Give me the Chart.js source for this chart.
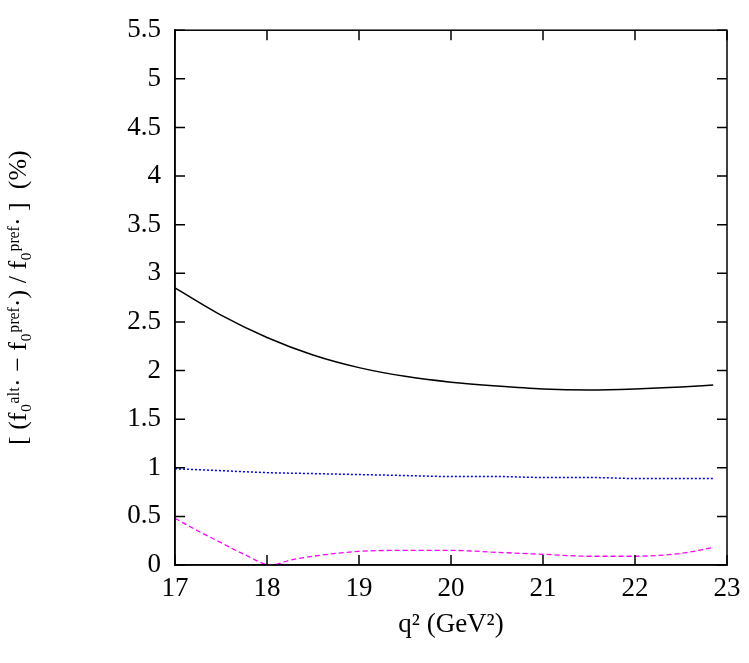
<!DOCTYPE html>
<html><head><script src="https://cdn.jsdelivr.net/npm/chart.js@4"></script>
<style>body{margin:0;background:#fff}#w{width:749px;height:663px}</style></head>
<body><div id="w"><canvas id="c"></canvas></div>
<script>
const q2 = [17,17.5,18,18.5,19,19.5,20,20.5,21,21.5,22,22.5,22.85];
const blackSeries = [2.85,2.57,2.34,2.16,2.03,1.94,1.88,1.84,1.81,1.80,1.81,1.83,1.85];
const blueSeries = [0.99,0.97,0.95,0.94,0.93,0.92,0.91,0.91,0.90,0.90,0.89,0.89,0.89];
const magentaX = [17,17.25,17.5,17.75,18.05,18.25,18.5,19,19.5,20,20.5,21,21.5,22,22.5,22.85];
const magentaSeries = [0.48,0.35,0.23,0.11,0.0,0.05,0.09,0.14,0.15,0.15,0.13,0.11,0.09,0.09,0.12,0.18];
const xTicks = [17,18,19,20,21,22,23];
const yTicks = [0,0.5,1,1.5,2,2.5,3,3.5,4,4.5,5,5.5];
const pts = (xs, ys) => xs.map((x,i)=>({x, y: ys[i]}));
const F = "'Liberation Serif', 'DejaVu Serif', serif";
new Chart(document.getElementById('c'), {
  type: 'line',
  data: { datasets: [
    {data: pts(q2, blackSeries), borderColor:'#000', borderWidth:1.5, pointRadius:0, cubicInterpolationMode:'monotone'},
    {data: pts(q2, blueSeries), borderColor:'#0000ff', borderWidth:1.5, borderDash:[2,2], pointRadius:0, cubicInterpolationMode:'monotone'},
    {data: pts(magentaX, magentaSeries), borderColor:'#ff00ff', borderWidth:1.3, borderDash:[5,3], pointRadius:0, cubicInterpolationMode:'monotone'}
  ]},
  options: {
    responsive:true, maintainAspectRatio:false, animation:false,
    layout:{padding:{top:2,right:22,left:0,bottom:22}},
    plugins:{legend:{display:false}, tooltip:{enabled:false}},
    scales:{
      x:{type:'linear', min:17, max:23, afterFit:a=>{a.height=76;},
        afterBuildTicks:a=>{a.ticks=xTicks.map(v=>({value:v}));},
        grid:{display:false, drawTicks:false},
        border:{color:'#000', width:1.5},
        ticks:{color:'#000', font:{family:F,size:27}, padding:8},
        title:{display:true, text:'q² (GeV²)', color:'#000', font:{family:F,size:27}, padding:{top:0,bottom:0}}},
      y:{min:0, max:5.5, afterFit:a=>{a.width=175;},
        afterBuildTicks:a=>{a.ticks=yTicks.map(v=>({value:v}));},
        grid:{display:false, drawTicks:false},
        border:{color:'#000', width:1.5},
        ticks:{color:'#000', font:{family:F,size:27}, padding:14, callback:v=>String(v)},
        title:{display:true, text:'[ (f₀ᵃˡᵗ· − f₀ᵖʳᵉᶠ·) / f₀ᵖʳᵉᶠ· ]  (%)', color:'#000', font:{family:F,size:26}}}
    }
  },
  plugins:[{id:'box', afterDraw(ch){const c=ch.ctx,a=ch.chartArea;c.save();c.strokeStyle='#000';c.lineWidth=1.5;
    c.strokeRect(a.left,a.top,a.right-a.left,a.bottom-a.top);
    const xs=ch.scales.x, ys=ch.scales.y;
    xTicks.forEach(v=>{const p=xs.getPixelForValue(v);c.beginPath();c.moveTo(p,a.bottom);c.lineTo(p,a.bottom-10);c.moveTo(p,a.top);c.lineTo(p,a.top+10);c.stroke();});
    yTicks.forEach(v=>{const p=ys.getPixelForValue(v);c.beginPath();c.moveTo(a.left,p);c.lineTo(a.left+10,p);c.moveTo(a.right,p);c.lineTo(a.right-10,p);c.stroke();});
    c.restore();}}]
});
</script></body></html>
